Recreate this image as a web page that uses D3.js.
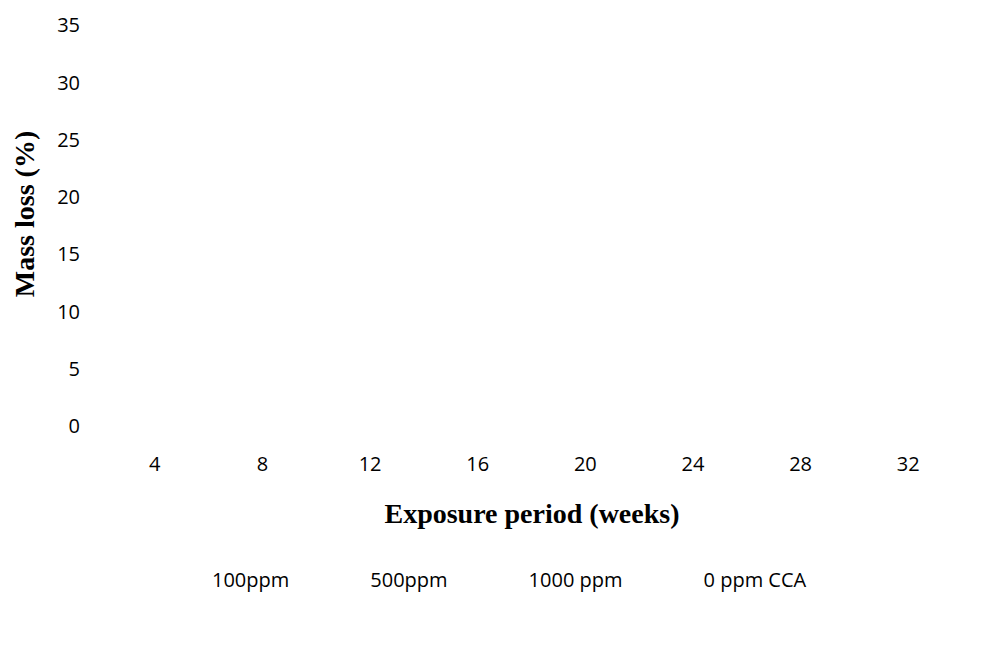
<!DOCTYPE html>
<html>
<script src="https://d3js.org/d3.v7.min.js"></script>
<style>
    body {
        margin: 0;
        background: #fff;
    }

    .domain {
        display: none;
    }

    .tick line {
        display: none;
    }

    .tick text {
        font-size: 20px;
        font-family: "Open Sans", sans-serif;
        fill: #000;
    }
</style>

<body>
</body>
<script>
    const width = 998,
        height = 645;

    // exposure periods (weeks) on the category axis
    const weeks = [4, 8, 12, 16, 20, 24, 28, 32];
    // value axis ticks
    const massTicks = [0, 5, 10, 15, 20, 25, 30, 35];
    // series shown in the legend (no marks are visible in the picture)
    const seriesNames = ["100ppm", "500ppm", "1000 ppm", "0 ppm CCA"];

    const svg = d3.select("body").append("svg")
        .attr("width", width)
        .attr("height", height);

    const x = d3.scaleBand()
        .domain(weeks)
        .range([101, 962]);
    const y = d3.scaleLinear()
        .domain([0, 35])
        .range([426, 25]);

    svg.append("g")
        .attr("transform", "translate(0,471)")
        .call(d3.axisBottom(x).tickSize(0).tickPadding(0))
        .selectAll("text")
        .attr("y", 0)
        .attr("dy", 0);

    svg.append("g")
        .attr("transform", "translate(80,0)")
        .call(d3.axisLeft(y).tickValues(massTicks).tickSize(0).tickPadding(0))
        .selectAll("text")
        .attr("dy", "0.34em");

    svg.append("text")
        .attr("x", 532)
        .attr("y", 523)
        .attr("text-anchor", "middle")
        .attr("font-family", "'Liberation Serif', 'Times New Roman', serif")
        .attr("font-weight", "bold")
        .attr("font-size", 28)
        .text("Exposure period (weeks)");

    svg.append("text")
        .attr("transform", "translate(34,214) rotate(-90)")
        .attr("text-anchor", "middle")
        .attr("font-family", "'Liberation Serif', 'Times New Roman', serif")
        .attr("font-weight", "bold")
        .attr("font-size", 28)
        .text("Mass loss (%)");

    // legend entries laid out one after another
    const legend = svg.append("g");
    let lx = 212;
    seriesNames.forEach(name => {
        const t = legend.append("text")
            .attr("x", lx)
            .attr("y", 587)
            .attr("font-family", "'Open Sans', sans-serif")
            .attr("font-size", 20)
            .text(name);
        lx += t.node().getComputedTextLength() + 81;
    });
</script>

</html>
